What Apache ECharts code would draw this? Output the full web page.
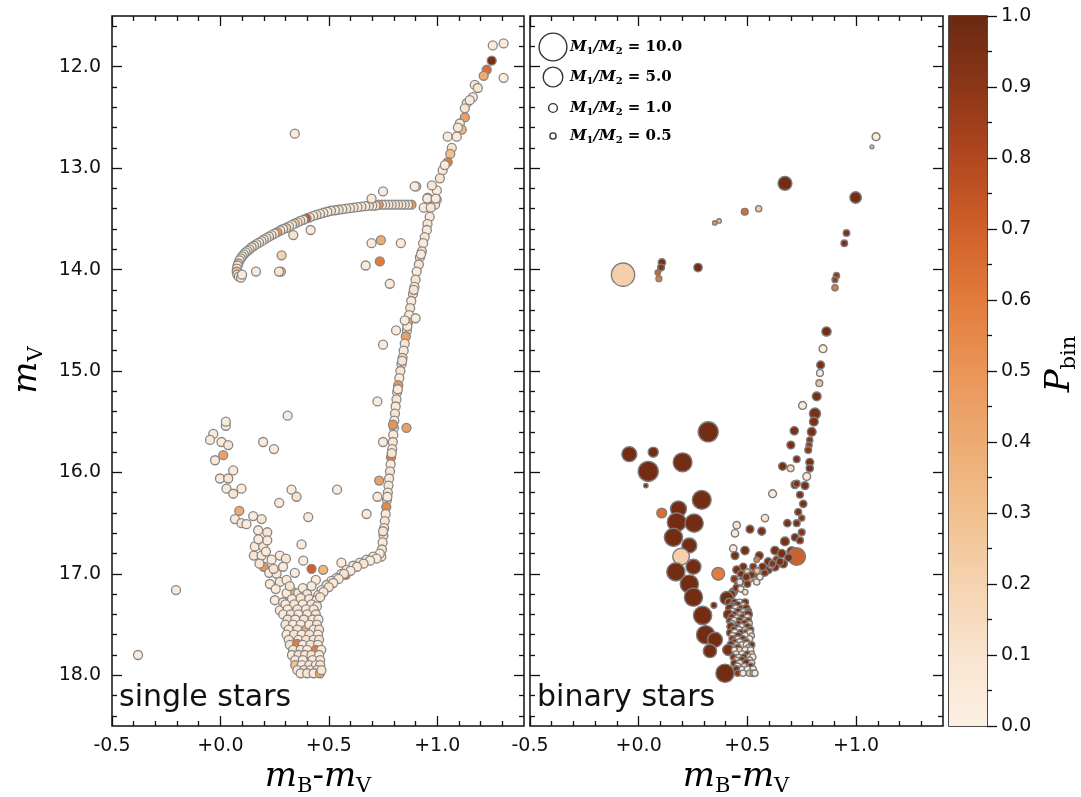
<!DOCTYPE html>
<html><head><meta charset="utf-8">
<script src="https://cdn.jsdelivr.net/npm/echarts@6/dist/echarts.min.js"></script>
<style>html,body{margin:0;padding:0;background:#fff}#c{width:1081px;height:797px}</style>
</head><body><div id="c"></div>
<script>
// ---------- DATA ----------
// single stars: [mB-mV, mV, Pbin]
const singleStars = [
[1.256,11.79,0.05],[1.306,11.77,0.05],[1.251,11.94,0.95],[1.228,12.03,0.65],[1.214,12.09,0.4],[1.306,12.11,0.02],[1.173,12.18,0.1],[1.187,12.21,0.1],[1.164,12.3,0.05],[1.136,12.36,0.05],[1.127,12.41,0.1],[1.127,12.5,0.45],[1.104,12.56,0.05],[1.113,12.62,0.35],[1.048,12.69,0.05],[1.09,12.69,0.05],[1.067,12.8,0.1],[1.06,12.86,0.3],[1.048,12.94,0.6],[1.025,13.02,0.05],[1.012,13.1,0.1],[0.998,13.22,0.05],[0.956,13.29,0.05],[0.998,13.31,0.05],[0.99,13.36,0.1],[0.956,13.38,0.05],[0.965,13.48,0.05],[0.955,13.55,0.1],[0.952,13.61,0.05],[0.942,13.68,0.1],[0.935,13.74,0.05],[0.929,13.82,0.1],[0.92,13.88,0.05],[0.915,13.95,0.1],[0.905,14.02,0.05],[0.9,14.1,0.1],[0.895,14.17,0.05],[0.888,14.24,0.15],[0.88,14.31,0.05],[0.875,14.38,0.1],[0.87,14.45,0.05],[0.865,14.52,0.4],[0.86,14.6,0.1],[0.855,14.66,0.45],[0.85,14.73,0.1],[0.845,14.8,0.05],[0.84,14.87,0.2],[0.835,14.93,0.05],[0.83,15.0,0.1],[0.825,15.07,0.05],[0.82,15.14,0.5],[0.815,15.21,0.05],[0.812,15.28,0.1],[0.808,15.35,0.05],[0.805,15.42,0.1],[0.802,15.49,0.05],[0.8,15.56,0.1],[0.797,15.63,0.05],[0.795,15.7,0.1],[0.792,15.77,0.05],[0.787,15.85,0.6],[0.785,15.92,0.05],[0.782,15.99,0.1],[0.778,16.06,0.05],[0.775,16.13,0.1],[0.772,16.2,0.05],[0.768,16.27,0.1],[0.765,16.34,0.55],[0.762,16.41,0.05],[0.758,16.48,0.1],[0.755,16.55,0.05],[0.752,16.62,0.1],[0.748,16.69,0.05],[0.745,16.76,0.1],[0.742,16.83,0.05],
[1.15,12.33,0.05],[1.095,12.6,0.1],[1.035,12.97,0.05],[0.975,13.17,0.1],[0.925,13.85,0.05],[0.892,14.2,0.1],[0.862,14.56,0.05],[0.838,14.9,0.1],[0.818,15.18,0.05],[0.79,15.81,0.1],[0.77,16.24,0.05],[0.75,16.58,0.1],
[0.85,14.5,0.05],[0.9,14.48,0.05],[0.81,14.6,0.05],[0.75,14.74,0.05],[0.954,13.3,0.05],[0.993,13.3,0.05],[0.938,13.39,0.05],[0.97,13.39,0.1],[0.903,13.18,0.05],
[0.724,15.3,0.05],[0.75,15.7,0.05],[0.858,15.56,0.45],[0.796,15.53,0.5],[0.732,16.08,0.45],[0.724,16.24,0.05],[0.674,16.41,0.05],
[0.881,13.36,0.5],[0.865,13.36,0.05],[0.85,13.36,0.1],[0.835,13.36,0.05],[0.82,13.36,0.1],[0.805,13.36,0.05],[0.79,13.36,0.1],[0.775,13.36,0.05],[0.76,13.36,0.1],[0.745,13.36,0.05],[0.73,13.36,0.5],[0.715,13.37,0.1],[0.7,13.37,0.05],[0.685,13.37,0.1],[0.668,13.375,0.05],[0.65,13.38,0.1],[0.632,13.385,0.05],[0.614,13.39,0.1],[0.597,13.395,0.05],[0.58,13.4,0.1],[0.562,13.405,0.05],[0.545,13.41,0.1],[0.528,13.415,0.05],[0.51,13.42,0.1],[0.493,13.43,0.05],[0.475,13.44,0.1],[0.459,13.45,0.05],[0.443,13.46,0.1],[0.428,13.47,0.05],[0.412,13.485,0.1],[0.397,13.495,0.75],[0.382,13.51,0.05],[0.368,13.52,0.1],[0.355,13.535,0.05],[0.343,13.545,0.3],[0.33,13.56,0.1],[0.316,13.575,0.05],[0.303,13.59,0.2],[0.289,13.6,0.05],[0.276,13.615,0.1],[0.262,13.63,0.5],[0.249,13.645,0.05],[0.236,13.66,0.1],[0.224,13.675,0.05],[0.212,13.69,0.1],[0.2,13.705,0.05],[0.19,13.72,0.1],[0.178,13.735,0.05],[0.166,13.75,0.1],[0.155,13.765,0.05],[0.144,13.78,0.1],[0.134,13.8,0.05],[0.125,13.815,0.1],[0.116,13.83,0.05],[0.108,13.85,0.1],[0.1,13.87,0.05],[0.094,13.89,0.1],[0.088,13.91,0.05],[0.083,13.94,0.1],[0.079,13.96,0.05],[0.076,13.99,0.1],[0.075,14.02,0.35],[0.078,14.05,0.1],[0.085,14.07,0.05],[0.095,14.08,0.1],[0.1,14.05,0.05],
[0.282,13.86,0.2],[0.336,13.66,0.1],[0.416,13.61,0.05],[0.164,14.02,0.05],[0.279,14.02,0.25],[0.27,14.02,0.1],[0.697,13.74,0.05],[0.74,13.71,0.4],[0.832,13.74,0.05],[0.67,13.96,0.05],[0.735,13.92,0.6],[0.781,14.14,0.05],[0.75,13.23,0.05],[0.697,13.3,0.05],[0.896,13.18,0.05],[0.343,12.66,0.05],
[0.025,15.54,0.05],[0.025,15.5,0.05],[-0.033,15.62,0.05],[-0.048,15.68,0.05],[0.005,15.7,0.05],[0.036,15.73,0.1],[0.013,15.83,0.45],[-0.025,15.88,0.05],[0.059,15.98,0.05],[-0.002,16.06,0.05],[0.036,16.06,0.1],[0.028,16.16,0.05],[0.097,16.16,0.05],[0.059,16.21,0.1],[0.197,15.7,0.05],[0.247,15.77,0.05],[0.31,15.44,0.05],[0.328,16.17,0.05],[0.351,16.24,0.1],[0.271,16.3,0.05],[0.538,16.17,0.05],[0.405,16.44,0.05],[0.087,16.38,0.4],[0.067,16.46,0.05],[0.097,16.5,0.1],[0.12,16.51,0.05],[0.151,16.43,0.05],[0.19,16.46,0.1],[0.174,16.57,0.05],[0.216,16.59,0.1],[0.159,16.73,0.05],[0.197,16.73,0.1],[0.216,16.67,0.05],[0.154,16.82,0.1],[0.19,16.82,0.05],[0.2,16.93,0.5],[0.236,16.86,0.05],[0.274,16.82,0.05],[0.302,16.85,0.1],[0.225,16.99,0.05],[0.259,17.0,0.1],[0.228,17.1,0.05],[0.274,17.08,0.1],[0.305,17.06,0.05],[0.289,16.93,0.05],[0.343,16.99,0.05],[0.336,17.18,0.4],[0.305,17.19,0.05],[0.359,17.19,0.1],[0.251,17.26,0.05],[0.289,17.28,0.1],[0.274,17.36,0.05],[0.374,16.71,0.05],[0.382,16.87,0.05],[0.42,16.95,0.7],[0.474,16.96,0.35],[0.558,16.89,0.05],[0.44,17.06,0.05],[0.486,17.14,0.7],[0.578,17.01,0.6],[-0.205,17.16,0.05],[-0.38,17.8,0.05],
[0.175,16.66,0.05],[0.18,16.9,0.1],[0.21,16.78,0.05],[0.245,16.95,0.1],[0.255,17.15,0.05],[0.32,17.12,0.1],[0.38,17.14,0.05],[0.4,17.2,0.1],[0.42,17.12,0.05],[0.33,17.25,0.05],[0.37,17.24,0.1],[0.41,17.25,0.05],
[0.735,16.8,0.05],[0.704,16.83,0.1],[0.674,16.86,0.05],[0.643,16.89,0.1],[0.612,16.92,0.05],[0.582,16.96,0.1],[0.558,17.0,0.05],[0.535,17.04,0.1],[0.512,17.07,0.05],[0.489,17.11,0.1],[0.466,17.16,0.05],[0.451,17.21,0.1],[0.443,17.26,0.05],
[0.72,16.85,0.05],[0.69,16.87,0.05],[0.66,16.9,0.1],[0.63,16.93,0.05],[0.6,16.97,0.05],[0.57,17.0,0.1],[0.545,17.05,0.05],[0.52,17.09,0.05],[0.5,17.13,0.1],[0.475,17.18,0.05],[0.46,17.23,0.1],
[0.3,17.3,0.05],[0.34,17.3,0.1],[0.38,17.3,0.05],[0.42,17.3,0.1],[0.445,17.32,0.05],
[0.31,17.35,0.05],[0.355,17.35,0.1],[0.395,17.35,0.05],[0.43,17.35,0.1],
[0.29,17.4,0.05],[0.325,17.4,0.1],[0.36,17.4,0.05],[0.4,17.4,0.05],[0.44,17.4,0.1],
[0.31,17.45,0.1],[0.345,17.45,0.05],[0.385,17.45,0.1],[0.425,17.45,0.05],[0.452,17.45,0.05],
[0.3,17.5,0.1],[0.335,17.5,0.05],[0.37,17.5,0.05],[0.394,17.55,0.4],[0.41,17.5,0.05],[0.445,17.5,0.1],
[0.315,17.55,0.05],[0.355,17.55,0.1],[0.43,17.55,0.05],[0.455,17.55,0.1],
[0.305,17.6,0.05],[0.34,17.6,0.1],[0.375,17.6,0.05],[0.41,17.6,0.1],[0.45,17.6,0.05],
[0.315,17.65,0.1],[0.36,17.65,0.05],[0.395,17.65,0.1],[0.43,17.65,0.05],[0.455,17.65,0.1],
[0.32,17.7,0.1],[0.354,17.69,0.6],[0.38,17.7,0.05],[0.415,17.7,0.1],[0.45,17.7,0.05],[0.44,17.75,0.6],
[0.335,17.75,0.05],[0.37,17.75,0.1],[0.4,17.75,0.05],[0.465,17.75,0.05],
[0.33,17.8,0.05],[0.36,17.8,0.1],[0.39,17.8,0.05],[0.42,17.8,0.1],[0.455,17.8,0.05],
[0.345,17.85,0.1],[0.38,17.85,0.05],[0.425,17.85,0.05],[0.46,17.85,0.1],
[0.345,17.9,0.3],[0.375,17.9,0.05],[0.41,17.9,0.1],[0.44,17.9,0.05],[0.46,17.9,0.1],
[0.355,17.95,0.05],[0.385,17.95,0.1],[0.415,17.95,0.05],[0.445,17.95,0.1],
[0.37,17.98,0.05],[0.4,17.98,0.1],[0.43,17.98,0.05],[0.459,17.98,0.4],[0.466,17.95,0.1]
];

// binary stars: [mB-mV, mV, Pbin, M1/M2]
const binaryStars = [
[1.092,12.69,0.02,0.8],[1.073,12.79,0.3,0.2],[0.673,13.15,0.97,2.5],[0.998,13.29,0.97,1.7],[0.488,13.43,0.65,0.6],[0.552,13.4,0.25,0.5],[0.35,13.54,0.5,0.25],[0.37,13.52,0.3,0.25],[0.956,13.64,0.95,0.55],[0.946,13.74,0.95,0.55],
[-0.072,14.05,0.22,7.0],[0.107,13.93,0.95,0.7],[0.103,13.98,0.9,0.6],[0.088,14.03,0.7,0.4],[0.093,14.09,0.6,0.45],[0.273,13.98,0.97,0.9],[0.91,14.06,0.9,0.5],[0.903,14.1,0.85,0.45],[0.903,14.18,0.6,0.5],
[0.864,14.61,0.97,1.1],[0.848,14.78,0.02,0.8],[0.837,14.94,0.95,0.8],[0.834,15.02,0.05,0.6],[0.831,15.12,0.3,0.6],[0.819,15.25,0.95,1.0],[0.754,15.34,0.05,0.8],[0.811,15.42,0.95,1.6],[0.806,15.5,0.95,1.0],[0.796,15.6,0.95,1.0],[0.716,15.59,0.95,0.9],[0.787,15.68,0.9,0.5],[0.784,15.73,0.85,0.5],[0.78,15.78,0.9,0.6],[0.7,15.73,0.95,0.8],[0.662,15.94,0.95,0.8],[0.727,15.87,0.95,0.6],[0.699,15.96,0.15,0.6],[0.787,15.9,0.95,0.8],[0.787,15.96,0.95,0.7],[0.773,16.04,0.05,0.8],[0.719,16.12,0.95,0.8],[0.765,16.13,0.95,0.8],[0.727,16.11,0.95,0.6],[0.742,16.22,0.95,0.6],[0.757,16.31,0.95,0.7],[0.734,16.39,0.95,0.6],[0.75,16.45,0.9,0.5],[0.727,16.5,0.95,0.6],[0.75,16.59,0.9,0.6],
[0.616,16.21,0.05,0.8],[0.581,16.45,0.1,0.7],[0.684,16.5,0.95,0.7],[0.451,16.52,0.1,0.7],[0.443,16.6,0.05,0.7],[0.512,16.56,0.95,0.8],[0.566,16.58,0.95,0.8],[0.435,16.75,0.05,0.7],[0.489,16.77,0.95,0.9],[0.443,16.82,0.95,0.8],[0.555,16.82,0.95,0.8],[0.543,16.86,0.6,0.4],[0.627,16.77,0.95,0.9],[0.673,16.68,0.95,1.0],[0.658,16.8,0.95,0.9],[0.704,16.78,0.9,1.2],[0.719,16.64,0.95,0.7],[0.742,16.67,0.95,0.6],[0.727,16.83,0.7,4.0],
[0.665,16.9,0.95,0.9],[0.627,16.93,0.95,0.9],[0.596,16.96,0.95,0.8],[0.566,16.96,0.1,0.6],[0.535,17.0,0.95,0.8],[0.512,17.05,0.5,0.5],[0.481,17.06,0.95,0.8],[0.458,17.11,0.95,0.8],[0.435,17.18,0.95,0.9],[0.412,17.23,0.95,1.3],[0.543,17.08,0.05,0.5],[0.558,17.03,0.05,0.5],[0.596,16.88,0.95,0.8],[0.635,16.86,0.9,0.7],[0.527,16.93,0.9,0.6],[0.481,16.93,0.95,0.7],[0.451,16.96,0.95,0.8],[0.5,16.98,0.2,0.5],[0.47,17.0,0.95,0.6],[0.44,17.05,0.9,0.6],[0.61,16.92,0.3,0.5],[0.58,16.99,0.95,0.6],
[0.69,16.84,0.95,0.8],[0.65,16.88,0.95,0.7],[0.615,16.9,0.9,0.6],[0.57,16.93,0.95,0.7],[0.545,16.97,0.3,0.5],[0.52,17.01,0.95,0.6],[0.495,17.03,0.95,0.7],[0.465,17.08,0.1,0.5],[0.45,17.14,0.95,0.7],[0.428,17.2,0.95,0.8],[0.47,17.15,0.05,0.5],[0.5,17.1,0.95,0.6],[0.49,17.18,0.1,0.4],
[0.32,15.6,0.97,5.2],[-0.043,15.82,0.97,2.9],[0.067,15.8,0.97,1.3],[0.044,15.99,0.97,5.2],[0.033,16.13,0.97,0.25],[0.202,15.9,0.97,4.6],[0.29,16.27,0.97,4.6],[0.106,16.4,0.65,1.25],[0.183,16.36,0.97,3.3],[0.175,16.49,0.97,4.6],[0.255,16.5,0.97,4.3],[0.16,16.64,0.97,4.3],[0.233,16.72,0.97,2.9],[0.195,16.83,0.22,3.6],[0.252,16.93,0.97,2.9],[0.171,16.98,0.97,4.3],[0.366,17.0,0.6,2.1],[0.233,17.1,0.97,4.3],[0.252,17.23,0.97,4.3],[0.346,17.31,0.97,0.45],[0.294,17.41,0.97,4.3],[0.308,17.6,0.97,4.3],[0.351,17.65,0.97,2.9],[0.328,17.76,0.97,2.3],[0.397,17.98,0.97,4.3],[0.405,17.24,0.97,2.3],
[0.415,17.28,0.95,0.8],[0.44,17.28,0.95,0.6],[0.465,17.28,0.05,0.5],[0.49,17.28,0.95,0.6],
[0.43,17.31,0.9,0.5],[0.455,17.31,0.95,0.7],[0.48,17.31,0.1,0.4],
[0.42,17.34,0.95,1.0],[0.447,17.34,0.05,0.6],[0.47,17.34,0.9,0.5],[0.495,17.34,0.95,0.7],
[0.432,17.37,0.05,0.5],[0.458,17.37,0.95,0.6],[0.482,17.37,0.2,0.4],[0.505,17.37,0.95,0.5],
[0.412,17.4,0.95,1.2],[0.44,17.4,0.95,0.5],[0.465,17.4,0.3,0.4],[0.49,17.4,0.95,0.5],[0.504,17.4,0.95,0.9],
[0.428,17.43,0.95,0.7],[0.452,17.43,0.1,0.4],[0.478,17.43,0.95,0.6],[0.5,17.43,0.05,0.5],
[0.418,17.46,0.9,0.5],[0.44,17.46,0.05,0.5],[0.465,17.46,0.95,0.6],[0.49,17.46,0.1,0.5],[0.505,17.46,0.9,0.5],
[0.43,17.49,0.05,0.5],[0.46,17.49,0.95,0.5],[0.488,17.49,0.95,0.7],[0.51,17.49,0.1,0.4],
[0.425,17.52,0.95,0.9],[0.45,17.52,0.9,0.4],[0.475,17.52,0.05,0.5],[0.5,17.52,0.95,0.6],
[0.437,17.55,0.95,0.6],[0.462,17.55,0.05,0.5],[0.488,17.55,0.3,0.4],[0.515,17.55,0.95,0.5],
[0.42,17.58,0.95,0.6],[0.443,17.58,0.05,0.6],[0.47,17.58,0.95,0.5],[0.495,17.58,0.9,0.5],[0.512,17.58,0.1,0.5],
[0.432,17.61,0.1,0.5],[0.458,17.61,0.95,0.6],[0.49,17.61,0.05,0.5],[0.52,17.61,0.1,0.4],
[0.43,17.64,0.9,0.5],[0.455,17.64,0.1,0.4],[0.48,17.64,0.95,0.5],[0.51,17.64,0.05,0.5],
[0.44,17.67,0.95,0.5],[0.465,17.67,0.05,0.5],[0.495,17.67,0.95,0.5],
[0.425,17.7,0.95,0.8],[0.45,17.7,0.3,0.4],[0.475,17.7,0.05,0.5],[0.497,17.7,0.05,0.6],[0.52,17.7,0.95,0.5],
[0.43,17.73,0.05,0.5],[0.457,17.73,0.95,0.6],[0.505,17.73,0.2,0.5],
[0.412,17.75,0.95,1.6],[0.44,17.75,0.05,0.4],[0.465,17.75,0.2,0.4],[0.49,17.75,0.1,0.5],[0.515,17.75,0.05,0.5],
[0.448,17.79,0.1,0.5],[0.475,17.79,0.05,0.5],[0.5,17.79,0.95,0.5],[0.52,17.79,0.1,0.4],
[0.435,17.82,0.9,0.5],[0.46,17.82,0.05,0.4],[0.485,17.82,0.95,0.5],[0.51,17.82,0.2,0.5],[0.525,17.82,0.05,0.5],
[0.45,17.85,0.05,0.4],[0.475,17.85,0.95,0.6],[0.51,17.85,0.05,0.5],
[0.44,17.88,0.95,0.6],[0.465,17.88,0.1,0.5],[0.497,17.88,0.95,0.9],[0.52,17.88,0.15,0.5],
[0.455,17.91,0.05,0.5],[0.485,17.91,0.2,0.4],[0.515,17.91,0.95,0.5],
[0.45,17.94,0.95,0.6],[0.475,17.94,0.05,0.4],[0.5,17.94,0.1,0.5],[0.527,17.94,0.05,0.5],
[0.455,17.98,0.9,0.5],[0.48,17.98,0.05,0.5],[0.51,17.98,0.2,0.5],[0.527,17.98,0.35,0.55],[0.535,17.98,0.05,0.5]
];

const xMajorTicks = [-0.5, 0.0, 0.5, 1.0];
const xTickLabels = ['-0.5', '+0.0', '+0.5', '+1.0'];
const yMajorTicks = [12, 13, 14, 15, 16, 17, 18];
const yTickLabels = ['12.0', '13.0', '14.0', '15.0', '16.0', '17.0', '18.0'];
const cbTicks = [0, 0.1, 0.2, 0.3, 0.4, 0.5, 0.6, 0.7, 0.8, 0.9, 1.0];
const cbTickLabels = ['0.0', '0.1', '0.2', '0.3', '0.4', '0.5', '0.6', '0.7', '0.8', '0.9', '1.0'];
const legendRatios = [10.0, 5.0, 1.0, 0.5];
const pbinColors = ['#fcf0e3','#f9e4cf','#f5d3b0','#f1c08e','#edab72','#ea9558','#e27b3b','#d0602a','#b2471f','#8c3618','#6a2911'];
const panelLabels = ['single stars', 'binary stars'];

// ---------- CHART ----------
const X_MIN = -0.5, X_MAX = 1.4, Y_MIN = 11.5, Y_MAX = 18.5;
const xMinor = []; for (let i = -4; i <= 13; i++) if (i % 5 !== 0) xMinor.push(i / 10);
const yMinor = []; for (let k = 58; k <= 92; k++) if (k % 5 !== 0) yMinor.push(k / 5);
const INK = '#111';
const lbl = (ticks, labels) => v => { const i = ticks.findIndex(t => Math.abs(t - v) < 1e-6); return i >= 0 ? labels[i] : ''; };

function xAx(g, pos, major, showLabel) {
  const vals = major ? xMajorTicks : xMinor;
  return { gridIndex: g, type: 'value', position: pos, min: X_MIN, max: X_MAX,
    axisLine: { show: false, onZero: false }, splitLine: { show: false },
    axisTick: { show: true, inside: true, length: major ? 10 : 5, customValues: vals, lineStyle: { color: INK, width: 1.3 } },
    axisLabel: { show: showLabel, customValues: xMajorTicks, formatter: lbl(xMajorTicks, xTickLabels), fontSize: 19, color: INK, fontFamily: 'DejaVu Sans', margin: 11 } };
}
function yAx(g, pos, major, showLabel) {
  const vals = major ? yMajorTicks : yMinor;
  return { gridIndex: g, type: 'value', position: pos, min: Y_MIN, max: Y_MAX, inverse: true,
    axisLine: { show: false, onZero: false }, splitLine: { show: false },
    axisTick: { show: true, inside: true, length: major ? 10 : 5, customValues: vals, lineStyle: { color: INK, width: 1.3 } },
    axisLabel: { show: showLabel, customValues: yMajorTicks, formatter: lbl(yMajorTicks, yTickLabels), fontSize: 19, color: INK, fontFamily: 'DejaVu Sans', margin: 11 } };
}

const xAxes = [], yAxes = [];
for (let g = 0; g < 2; g++) {
  xAxes.push(xAx(g, 'bottom', true, true), xAx(g, 'top', true, false), xAx(g, 'bottom', false, false), xAx(g, 'top', false, false));
  yAxes.push(yAx(g, 'left', true, g === 0), yAx(g, 'right', true, false), yAx(g, 'left', false, false), yAx(g, 'right', false, false));
}
xAxes.push({ gridIndex: 2, type: 'category', data: ['P'], show: false });
yAxes.push({ gridIndex: 2, type: 'value', position: 'right', min: 0, max: 1, interval: 0.1,
  axisLine: { show: false, onZero: false }, splitLine: { show: false },
  axisTick: { show: true, inside: false, length: 10, lineStyle: { color: INK, width: 1.3 } },
  minorTick: { show: true, splitNumber: 2, length: 5, lineStyle: { color: INK, width: 1.3 } },
  axisLabel: { formatter: lbl(cbTicks, cbTickLabels), fontSize: 19, color: INK, fontFamily: 'DejaVu Sans', margin: 14 } });

const SIZE_K = 8.8;
const gradStops = pbinColors.map((c, i) => ({ offset: 1 - i / (pbinColors.length - 1), color: c }));

const serif = 'DejaVu Serif';
const mathRich = (big, small) => ({
  m: { fontFamily: serif, fontStyle: 'italic', fontSize: big, lineHeight: big + 6, color: INK },
  d: { fontFamily: serif, fontSize: big, lineHeight: big + 6, color: INK },
  s: { fontFamily: serif, fontSize: small, lineHeight: Math.round(small * 0.65), verticalAlign: 'bottom', color: INK }
});

const graphics = [];
const gridLefts = [112, 530], gridCenters = [318, 736];
panelLabels.forEach((t, i) => graphics.push({ type: 'text', x: gridLefts[i] + 7, y: 713, z: 10,
  style: { text: t, fontFamily: 'DejaVu Sans', fontSize: 30, fill: INK, verticalAlign: 'bottom' } }));
gridCenters.forEach(cx => graphics.push({ type: 'text', x: cx, y: 777,
  style: { text: '{m|m}{s|B}{d|-}{m|m}{s|V}', rich: mathRich(34, 21), align: 'center', verticalAlign: 'middle' } }));
graphics.push({ type: 'text', x: 27, y: 370, rotation: Math.PI / 2,
  style: { text: '{m|m}{s|V}', rich: mathRich(34, 21), align: 'center', verticalAlign: 'middle' } });
graphics.push({ type: 'text', x: 1060, y: 364, rotation: Math.PI / 2,
  style: { text: '{m|P}{s|bin}', rich: mathRich(34, 21), align: 'center', verticalAlign: 'middle' } });
const legY = [47, 77, 108, 136];
legendRatios.forEach((r, i) => {
  graphics.push({ type: 'circle', shape: { cx: 553, cy: legY[i], r: SIZE_K * Math.sqrt(r) / 2 }, z: 10,
    style: { fill: 'none', stroke: '#333', lineWidth: 1.4 } });
  graphics.push({ type: 'text', x: 570, y: legY[i], z: 10,
    style: { text: '{i|M}{s|1}{i|/M}{s|2}{t| = ' + r.toFixed(1) + '}', verticalAlign: 'middle',
      rich: {
        i: { fontFamily: serif, fontStyle: 'italic', fontWeight: 'bold', fontSize: 15, lineHeight: 19, color: '#222' },
        s: { fontFamily: serif, fontWeight: 'bold', fontSize: 10, lineHeight: 7, verticalAlign: 'bottom', color: '#222' },
        t: { fontFamily: serif, fontWeight: 'bold', fontSize: 15, lineHeight: 19, color: '#222' } } } });
});

const chart = echarts.init(document.getElementById('c'), null, { renderer: 'canvas' });
chart.setOption({
  animation: false,
  backgroundColor: '#fff',
  grid: [
    { left: 112, top: 16, width: 412, height: 710, show: true, borderColor: INK, borderWidth: 1.5, containLabel: false },
    { left: 530, top: 16, width: 413, height: 710, show: true, borderColor: INK, borderWidth: 1.5, containLabel: false },
    { left: 949, top: 16, width: 38, height: 710, show: true, borderColor: INK, borderWidth: 1.5, containLabel: false }
  ],
  xAxis: xAxes,
  yAxis: yAxes,
  visualMap: { type: 'continuous', show: false, min: 0, max: 1, dimension: 2, seriesIndex: [0, 1], inRange: { color: pbinColors } },
  series: [
    { type: 'scatter', xAxisIndex: 0, yAxisIndex: 0, data: singleStars, symbol: 'circle', symbolSize: 9,
      itemStyle: { borderColor: '#878787', borderWidth: 1.3, opacity: 1 }, emphasis: { disabled: true } },
    { type: 'scatter', xAxisIndex: 4, yAxisIndex: 4, data: binaryStars, symbol: 'circle',
      symbolSize: v => SIZE_K * Math.sqrt(v[3]),
      itemStyle: { borderColor: '#7d7d7d', borderWidth: 1.4, opacity: 1 }, emphasis: { disabled: true } },
    { type: 'bar', xAxisIndex: 8, yAxisIndex: 8, data: [1], barWidth: '100%', silent: true,
      itemStyle: { color: new echarts.graphic.LinearGradient(0, 0, 0, 1, gradStops) } }
  ],
  graphic: graphics
});
</script></body></html>
